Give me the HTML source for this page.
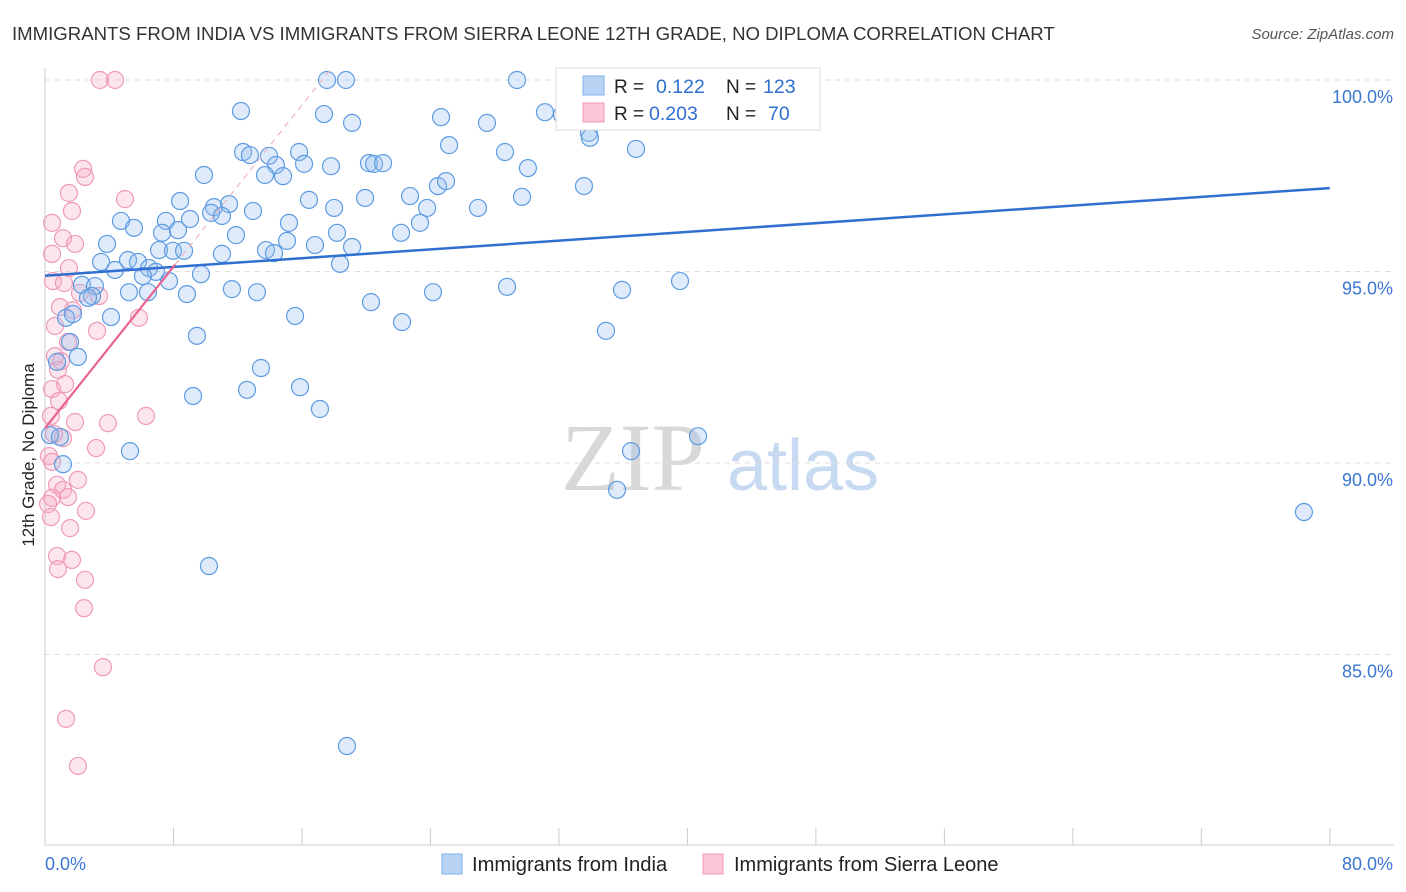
<!DOCTYPE html>
<html><head><meta charset="utf-8">
<style>
body{margin:0;background:#fff;font-family:"Liberation Sans",sans-serif;}
svg{display:block}
</style></head>
<body>
<svg id="chart" width="1406" height="892">
<text x="12" y="40" font-size="18.6" fill="#333">IMMIGRANTS FROM INDIA VS IMMIGRANTS FROM SIERRA LEONE 12TH GRADE, NO DIPLOMA CORRELATION CHART</text>
<text x="1394" y="39" font-size="15" fill="#555" font-style="italic" text-anchor="end">Source: ZipAtlas.com</text>
<text x="34" y="455" font-size="17" fill="#222" transform="rotate(-90 34 455)" text-anchor="middle">12th Grade, No Diploma</text>
<g><text x="633" y="490" font-size="96" fill="#d8d8d8" font-family="Liberation Serif,serif" text-anchor="middle">ZIP</text><text x="803" y="490" font-size="72" fill="#c8daf2" text-anchor="middle">atlas</text></g>
<g id="grid"></g><g id="marks"></g>
<g>
<rect x="556" y="68" width="264" height="62" fill="#fff" stroke="#ddd"/>
<rect x="583" y="76" width="21" height="19" fill="#b9d3f5" stroke="#7fb0ea"/>
<rect x="583" y="103" width="21" height="19" fill="#fcc6d6" stroke="#f09ab6"/>
<text x="614" y="93" font-size="19" fill="#222">R = </text><text x="656" y="93" font-size="19.5" fill="#2f6fd0">0.122</text>
<text x="726" y="93" font-size="19" fill="#222">N = </text><text x="763" y="93" font-size="19.5" fill="#2f6fd0">123</text>
<text x="614" y="120" font-size="19" fill="#222">R = </text><text x="649" y="120" font-size="19.5" fill="#2f6fd0">0.203</text>
<text x="726" y="120" font-size="19" fill="#222">N = </text><text x="768" y="120" font-size="19.5" fill="#2f6fd0">70</text>
</g>
<g>
<rect x="442" y="854" width="20" height="20" fill="#b9d3f5" stroke="#7fb0ea"/>
<text x="472" y="871" font-size="20.2" fill="#222">Immigrants from India</text>
<rect x="703" y="854" width="20" height="20" fill="#fcc6d6" stroke="#f09ab6"/>
<text x="734" y="871" font-size="20" fill="#222">Immigrants from Sierra Leone</text>
</g>
</svg>
<script>
const yTicks=[100,95,90,85];
const yTickLabels=["100.0%","95.0%","90.0%","85.0%"];
const xTickLabels=["0.0%","80.0%"];
const indiaX=[17.56,18.74,29.39,12.20,17.37,19.12,24.66,27.52,31.13,32.19,33.87,33.93,36.80,25.16,28.64,12.33,12.76,13.95,15.82,14.38,16.13,17.81,20.17,20.49,21.05,30.07,9.90,13.70,14.82,33.56,24.47,24.97,22.73,19.93,16.44,8.41,10.52,11.46,10.34,11.02,12.95,18.00,23.79,26.96,29.70,4.73,7.53,9.03,15.19,23.35,5.54,7.29,8.28,11.89,18.18,22.17,3.86,7.10,7.97,8.66,13.76,14.26,15.07,16.81,19.12,11.02,5.17,3.49,5.79,4.36,6.48,6.91,6.10,7.72,9.71,18.37,2.30,3.11,2.93,2.68,5.23,6.41,8.84,11.64,13.20,24.16,28.77,35.93,39.54,20.30,1.31,1.74,4.11,15.57,22.23,34.93,9.46,1.56,2.05,0.75,13.45,15.88,12.58,9.22,17.12,0.31,0.93,1.12,5.29,36.49,40.66,35.62,78.39,10.21,18.80];
const indiaY=[100,100,100,99.19,99.11,98.88,99.03,98.88,99.16,99.09,98.62,98.49,98.20,98.30,98.12,98.12,98.04,98.02,98.12,97.78,97.81,97.75,97.83,97.81,97.83,97.70,97.52,97.52,97.49,97.23,97.23,97.36,96.97,96.92,96.87,96.84,96.68,96.76,96.53,96.45,96.58,96.66,96.66,96.66,96.95,96.32,96.32,96.37,96.27,96.27,96.14,96.01,96.08,95.95,96.01,96.01,95.72,95.56,95.54,95.54,95.56,95.48,95.80,95.69,95.64,95.46,95.30,95.25,95.25,95.04,95.09,94.99,94.88,94.75,94.93,95.20,94.65,94.62,94.36,94.31,94.46,94.46,94.41,94.54,94.46,94.46,94.60,94.52,94.75,94.20,93.79,93.89,93.81,93.84,93.68,93.45,93.32,93.16,92.77,92.64,92.48,91.98,91.91,91.75,91.41,90.73,90.68,89.97,90.31,90.31,90.70,89.30,88.72,87.31,82.61];
const sierraX=[3.42,4.36,2.37,2.49,1.49,4.98,1.68,0.44,1.12,1.87,0.44,1.49,0.50,1.18,3.36,2.18,0.93,1.74,5.85,0.62,3.24,1.43,0.62,1.00,0.81,1.25,0.44,0.87,0.37,6.29,3.92,1.87,0.56,1.12,3.18,0.25,0.44,2.05,0.75,1.12,0.44,1.43,0.19,2.55,0.37,1.56,0.75,1.68,0.81,2.49,2.43,3.61,1.31,2.05];
const sierraY=[100,100,97.68,97.47,97.05,96.89,96.58,96.27,95.87,95.72,95.46,95.09,94.75,94.70,94.36,94.44,94.07,93.99,93.79,93.58,93.45,93.16,92.79,92.66,92.43,92.06,91.93,91.62,91.23,91.23,91.04,91.07,90.76,90.65,90.39,90.18,90.03,89.56,89.43,89.30,89.09,89.11,88.93,88.75,88.59,88.30,87.57,87.47,87.23,86.95,86.21,84.67,83.32,82.09];
const indiaTrend=[94.89,0.0286]; // intercept, slope
const sierraTrend=[90.91,0.527];
const xs=v=>45+v*16.06, ys=v=>80+(100-v)*38.3;
const NS="http://www.w3.org/2000/svg";
function mk(tag,at,parent){const e=document.createElementNS(NS,tag);for(const k in at)e.setAttribute(k,at[k]);parent.appendChild(e);return e;}
const grid=document.getElementById('grid'),marks=document.getElementById('marks');
yTicks.forEach((t,i)=>{
 const l=mk('line',{x1:45,x2:1394,y1:ys(t),y2:ys(t),stroke:'#ddd','stroke-dasharray':'5,5'},grid);
 
 
 const tx=mk('text',{x:1393,y:ys(t)+23,'font-size':18,fill:'#3a76d2','text-anchor':'end'},grid);
 tx.textContent=yTickLabels[i];
 
 
});
const ax=mk('line',{x1:45,x2:1394,y1:845,y2:845,stroke:'#ccc'},grid);


const ay=mk('line',{x1:45,x2:45,y1:68,y2:845,stroke:'#ccc'},grid);


for(let i=0;i<=10;i++){
 const t=mk('line',{x1:xs(i*8),x2:xs(i*8),y1:828,y2:845,stroke:'#ccc'},grid);
 
 
}
[[0,'start',45],[80,'end',1393]].forEach((d,i)=>{
 const t=mk('text',{x:d[2],y:870,'font-size':18,fill:'#3a76d2','text-anchor':d[1]},grid);
 t.textContent=xTickLabels[i];
 
 
});
sierraX.forEach((x,i)=>{
 const c=mk('circle',{cx:xs(x),cy:ys(sierraY[i]),r:8.5,fill:'rgba(247,170,196,0.3)',stroke:'#ef9ab7','stroke-width':1.2},marks);
 
 
});
indiaX.forEach((x,i)=>{
 const c=mk('circle',{cx:xs(x),cy:ys(indiaY[i]),r:8.5,fill:'rgba(150,190,240,0.3)',stroke:'#5d9be2','stroke-width':1.2},marks);
 
 
});
const bl=mk('line',{x1:xs(0),y1:ys(indiaTrend[0]),x2:xs(80),y2:ys(indiaTrend[0]+80*indiaTrend[1]),stroke:'#2f6fd0','stroke-width':2.5},marks);


const pe=8.1, pd=17.75;
const pl=mk('line',{x1:xs(0),y1:ys(sierraTrend[0]),x2:xs(pe),y2:ys(sierraTrend[0]+pe*sierraTrend[1]),stroke:'#e8638f','stroke-width':2.2},marks);


const pdl=mk('line',{x1:xs(pe),y1:ys(sierraTrend[0]+pe*sierraTrend[1]),x2:xs(pd),y2:ys(sierraTrend[0]+pd*sierraTrend[1]),stroke:'#f0b3c6','stroke-width':1.2,'stroke-dasharray':'6,5'},marks);


</script>
</body></html>
